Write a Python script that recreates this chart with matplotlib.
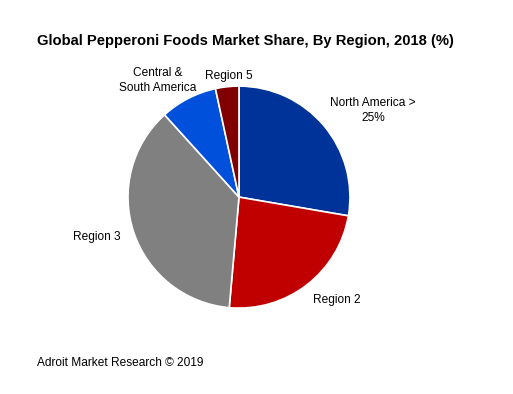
import matplotlib.pyplot as plt

plt.rcParams["font.family"] = ["Liberation Sans", "DejaVu Sans"]

regions = ["North America >\n25%", "Region 2", "Region 3", "Central &\nSouth America", "Region 5"]
shares = [27.7, 23.7, 36.9, 8.3, 3.4]
colors = ["#003399", "#c00000", "#808080", "#0050dc", "#800000"]

# label positions in pie data coords (radius 1)
label_pos = [(1.21, 0.78), (0.88, -0.93), (-1.28, -0.36), (-0.73, 1.05), (-0.09, 1.09)]

fig = plt.figure(figsize=(5.13, 3.94), dpi=100)
ax = fig.add_axes([0.2495, 0.218, 0.4327, 0.5635])
ax.pie(shares, colors=colors, startangle=90, counterclock=False, radius=1.0,
       wedgeprops={"edgecolor": "white", "linewidth": 1.2})
ax.set_xlim(-1, 1)
ax.set_ylim(-1, 1)
ax.set_aspect("equal")

for name, (x, y) in zip(regions, label_pos):
    ax.text(x, y, name, ha="center", va="center", fontsize=8.6, linespacing=1.3)

fig.text(37 / 513, 1 - 41 / 394, "Global Pepperoni Foods Market Share, By Region, 2018 (%)",
         fontsize=10.6, fontweight="bold", ha="left", va="center")
fig.text(37 / 513, 1 - 363 / 394, "Adroit Market Research \u00a9 2019",
         fontsize=8.6, ha="left", va="center")

fig.savefig("out.png", dpi=100)
